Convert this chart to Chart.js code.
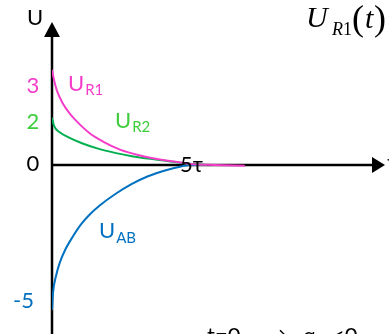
<!DOCTYPE html>
<html>
<head>
<meta charset="utf-8">
<script src="https://cdn.jsdelivr.net/npm/chart.js@4/dist/chart.umd.min.js"></script>
<style>
  html, body { margin:0; padding:0; background:#fff; }
  #wrap { width:389px; height:334px; }
</style>
</head>
<body>
<div id="wrap"><canvas id="c" width="389" height="334"></canvas></div>
<script>
// ============ data (t in units of tau, U in volts) ============
const T_UR1 = [0, 0.072, 0.18, 0.396, 0.649, 0.901, 1.369, 1.838, 2.45, 3.171, 3.892, 4.505, 5.0, 5.87, 6.95];
const V_UR1 = [3, 2.79, 2.56, 2.29, 2.08, 1.83, 1.33, 0.99, 0.65, 0.40, 0.23, 0.13, 0.04, 0, -0.03];

const T_UR2 = [0, 0.07, 0.29, 0.58, 1.08, 1.69, 2.31, 2.88, 3.46, 4.15, 4.86, 5.59];
const V_UR2 = [2, 1.66, 1.37, 1.18, 0.92, 0.68, 0.50, 0.37, 0.27, 0.17, 0.06, 0];

const T_UAB = [0, 0.036, 0.144, 0.288, 0.468, 0.757, 1.045, 1.369, 1.73, 2.27, 2.847, 3.459, 4.072, 4.649, 5.0, 5.44];
const V_UAB = [-5, -4.42, -3.83, -3.35, -2.94, -2.46, -2.05, -1.70, -1.39, -1.01, -0.67, -0.39, -0.19, -0.05, 0, 0];

const TICK_VALUES = [3, 2, 0, -5];
const TICK_LABELS = ['3', '2', '0', '-5'];

const PINK = '#f53dc9', GREEN = '#00b050', GREEN_TXT = '#3dcd3d', BLUE = '#0070c0';
const TICK_COLORS = [PINK, GREEN_TXT, '#000', BLUE];

// schematic axis: the drawing is not to scale, so the y axis is piecewise linear
const WARP_IN  = [-6, -5, 0, 2, 3, 4];
const WARP_OUT = [-174.6, -145.5, 0, 47.5, 95.5, 143.5];

function warp(v) {
  for (let i = 0; i < WARP_IN.length - 1; i++) {
    if (v <= WARP_IN[i + 1] || i === WARP_IN.length - 2) {
      const k = (v - WARP_IN[i]) / (WARP_IN[i + 1] - WARP_IN[i]);
      return WARP_OUT[i] + k * (WARP_OUT[i + 1] - WARP_OUT[i]);
    }
  }
}
function unwarp(w) {
  for (let i = 0; i < WARP_OUT.length - 1; i++) {
    if (w <= WARP_OUT[i + 1] || i === WARP_OUT.length - 2) {
      const k = (w - WARP_OUT[i]) / (WARP_OUT[i + 1] - WARP_OUT[i]);
      return WARP_IN[i] + k * (WARP_IN[i + 1] - WARP_IN[i]);
    }
  }
}

class PiecewiseScale extends Chart.LinearScale {
  getPixelForValue(v) {
    const a = warp(this.min), b = warp(this.max);
    return this.getPixelForDecimal((warp(v) - a) / (b - a));
  }
  getValueForPixel(p) {
    const a = warp(this.min), b = warp(this.max);
    return unwarp(a + this.getDecimalForPixel(p) * (b - a));
  }
}
PiecewiseScale.id = 'piecewise';
PiecewiseScale.defaults = Chart.LinearScale.defaults;
Chart.register(PiecewiseScale);

const pts = (ts, vs) => ts.map((t, i) => ({x: t, y: vs[i]}));

function sub(ctx, main, small, x, yBase, color, dy) {
  ctx.fillStyle = color;
  ctx.font = '22px Lato, "DejaVu Sans", sans-serif';
  ctx.fillText(main, x, yBase);
  const w = ctx.measureText(main).width;
  ctx.font = '15px Lato, "DejaVu Sans", sans-serif';
  ctx.fillText(small, x + w + 1, yBase + dy);
}

const decor = {
  id: 'decor',
  beforeDatasetsDraw(chart) {
    const {ctx, chartArea, scales: {x, y}} = chart;
    const x0 = x.getPixelForValue(0), y0 = y.getPixelForValue(0);
    ctx.save();
    ctx.strokeStyle = '#000';
    ctx.fillStyle = '#000';
    ctx.lineWidth = 2.5;
    ctx.beginPath();
    ctx.moveTo(x0, chart.height);
    ctx.lineTo(x0, chartArea.top + 12);
    ctx.moveTo(x0, y0);
    ctx.lineTo(chartArea.right - 12, y0);
    ctx.stroke();
    // arrow heads
    ctx.beginPath();
    ctx.moveTo(x0, chartArea.top);
    ctx.lineTo(x0 - 8, chartArea.top + 15);
    ctx.lineTo(x0 + 8, chartArea.top + 15);
    ctx.closePath();
    ctx.fill();
    ctx.beginPath();
    ctx.moveTo(chartArea.right, y0);
    ctx.lineTo(chartArea.right - 13, y0 - 8);
    ctx.lineTo(chartArea.right - 13, y0 + 8);
    ctx.closePath();
    ctx.fill();
    ctx.restore();
  },
  afterDatasetsDraw(chart) {
    const {ctx, scales: {x, y}} = chart;
    ctx.save();
    ctx.textBaseline = 'alphabetic';
    const font = '22px Lato, "DejaVu Sans", sans-serif';

    // tick labels
    const tickShift = {'3': [33, 15], '2': [33, 3], '0': [33, -1.5], '-5': [23.5, -10]};
    ctx.font = font;
    ctx.textAlign = 'center';
    TICK_VALUES.forEach((v, i) => {
      const [cx, dy] = tickShift[TICK_LABELS[i]];
      ctx.fillStyle = TICK_COLORS[i];
      ctx.fillText(TICK_LABELS[i], cx, y.getPixelForValue(v) + dy + 8);
    });

    // axis names
    ctx.textAlign = 'left';
    ctx.fillStyle = '#000';
    ctx.fillText('U', 27, 25);
    ctx.fillText('t', 387, 170);
    ctx.fillText('5τ', 180, 172);

    // series names
    sub(ctx, 'U', 'R1', 68, 91, PINK, 4);
    sub(ctx, 'U', 'R2', 115, 128, GREEN_TXT, 4);
    sub(ctx, 'U', 'AB', 99, 238, BLUE, 5);

    // title U_R1(t)
    ctx.fillStyle = '#000';
    ctx.font = 'italic 30px "Liberation Serif", serif';
    ctx.fillText('U', 306, 27);
    ctx.font = 'italic 18px "Liberation Serif", serif';
    ctx.fillText('R', 332, 35);
    ctx.font = '18px "Liberation Serif", serif';
    ctx.fillText('1', 343, 35);
    ctx.font = '36px "Liberation Serif", serif';
    ctx.fillText('(', 352, 30);
    ctx.font = 'italic 30px "Liberation Serif", serif';
    ctx.fillText('t', 365, 28);
    ctx.font = '36px "Liberation Serif", serif';
    ctx.fillText(')', 374, 30);

    // bottom note, cut by the picture edge
    ctx.font = font;
    ctx.fillText('t=0', 207, 343);
    ctx.textAlign = 'right';
    ctx.fillText('→', 288, 343);
    ctx.textAlign = 'left';
    ctx.fillText('α', 303, 343);
    ctx.fillText('<0', 332, 343);
    ctx.restore();
  }
};

new Chart(document.getElementById('c'), {
  type: 'line',
  data: {
    datasets: [
      {label: 'UR1', data: pts(T_UR1, V_UR1), borderColor: PINK, borderWidth: 2, pointRadius: 0, cubicInterpolationMode: 'monotone', fill: false},
      {label: 'UR2', data: pts(T_UR2, V_UR2), borderColor: GREEN, borderWidth: 2, pointRadius: 0, cubicInterpolationMode: 'monotone', fill: false},
      {label: 'UAB', data: pts(T_UAB, V_UAB), borderColor: BLUE, borderWidth: 2, pointRadius: 0, cubicInterpolationMode: 'monotone', fill: false}
    ]
  },
  options: {
    responsive: false,
    animation: false,
    events: [],
    layout: {padding: {left: 52, right: 4, top: 22, bottom: 0}},
    plugins: {legend: {display: false}, tooltip: {enabled: false}},
    scales: {
      x: {type: 'linear', min: 0, max: 12, display: false},
      y: {type: 'piecewise', min: -5.83, max: 4, display: false}
    }
  },
  plugins: [decor]
});
</script>
</body>
</html>
